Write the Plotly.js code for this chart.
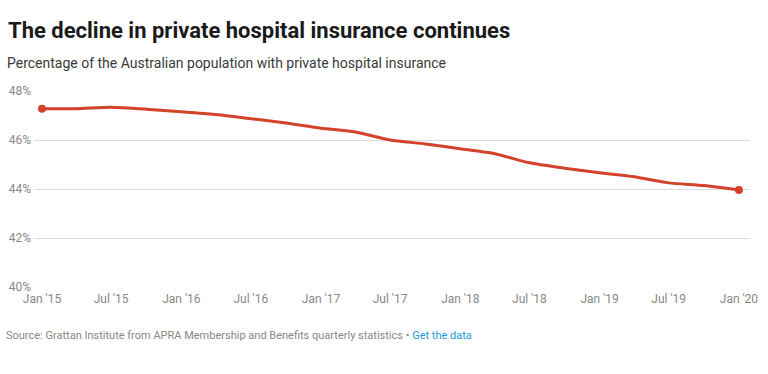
<!DOCTYPE html>
<html>
<head>
<meta charset="utf-8">
<script src="https://cdn.plot.ly/plotly-3.0.1.min.js"></script>
<style>
html,body{margin:0;padding:0;background:#fff;}
#chart{width:768px;height:374px;}
</style>
</head>
<body>
<div id="chart"></div>
<script>
// Quarterly observations (Jan 2015 – Jan 2020)
var dates = ['2015-01-01','2015-04-01','2015-07-01','2015-10-01',
             '2016-01-01','2016-04-01','2016-07-01','2016-10-01',
             '2017-01-01','2017-04-01','2017-07-01','2017-10-01',
             '2018-01-01','2018-04-01','2018-07-01','2018-10-01',
             '2019-01-01','2019-04-01','2019-07-01','2019-10-01',
             '2020-01-01'];
var coverage = [47.28, 47.28, 47.34, 47.26,
                47.15, 47.04, 46.87, 46.69,
                46.48, 46.33, 46.00, 45.84,
                45.64, 45.44, 45.07, 44.85,
                44.66, 44.50, 44.25, 44.14,
                43.96];
var endDates = [dates[0], dates[dates.length-1]];
var endValues = [coverage[0], coverage[coverage.length-1]];

var tickVals = ['2015-01-01','2015-07-01','2016-01-01','2016-07-01','2017-01-01','2017-07-01',
                '2018-01-01','2018-07-01','2019-01-01','2019-07-01','2020-01-01'];
var tickText = ["Jan '15","Jul '15","Jan '16","Jul '16","Jan '17","Jul '17",
                "Jan '18","Jul '18","Jan '19","Jul '19","Jan '20"];
var yTicks = [40, 42, 44, 46, 48];
var yTickText = ['40%','42%','44%','46%','48%'];

var lineColor = '#d2432a';

var traces = [
  {x: dates, y: coverage, type: 'scatter', mode: 'lines',
   line: {color: lineColor, width: 3, shape: 'spline', smoothing: 0.6},
   hoverinfo: 'skip', showlegend: false},
  {x: endDates, y: endValues, type: 'scatter', mode: 'markers',
   marker: {color: lineColor, size: 8},
   hoverinfo: 'skip', showlegend: false}
];

var layout = {
  width: 768, height: 374,
  margin: {l: 34, r: 18, t: 91, b: 87},
  paper_bgcolor: '#fff', plot_bgcolor: '#fff',
  font: {family: 'Roboto, "Open Sans", sans-serif', color: '#888'},
  xaxis: {
    type: 'date', range: ['2014-12-11', '2020-01-30'],
    tickvals: tickVals, ticktext: tickText,
    showgrid: false, zeroline: false, showline: false, ticks: '',
    ticklabelstandoff: 3,
    tickfont: {size: 12, color: '#888'}, fixedrange: true
  },
  yaxis: {
    range: [40, 48], tickvals: yTicks, ticktext: yTickText,
    showgrid: true, gridcolor: '#dcdcdc', gridwidth: 1,
    zeroline: false, showline: false, ticks: '',
    ticklabelstandoff: 2,
    tickfont: {size: 12, color: '#888'}, fixedrange: true
  },
  annotations: [
    {xref: 'paper', yref: 'paper', x: (6-34)/716, y: 1 + (91-31)/196, xanchor: 'left', yanchor: 'middle',
     text: '<b>The decline in private hospital insurance continues</b>', showarrow: false,
     font: {size: 22, color: '#1a1a1a', family: 'Roboto, sans-serif'}},
    {xref: 'paper', yref: 'paper', x: (5-34)/716, y: 1 + (91-63)/196, xanchor: 'left', yanchor: 'middle',
     text: 'Percentage of the Australian population with private hospital insurance', showarrow: false,
     font: {size: 14, color: '#3a3a3a', family: 'Roboto, sans-serif'}},
    {xref: 'paper', yref: 'paper', x: (4-34)/716, y: -(335-287)/196, xanchor: 'left', yanchor: 'middle',
     text: 'Source: Grattan Institute from APRA Membership and Benefits quarterly statistics • <span style="color:#1d9ad6">Get the data</span>',
     showarrow: false, font: {size: 11, color: '#888', family: 'Roboto, sans-serif'}}
  ]
};

Plotly.newPlot('chart', traces, layout, {displayModeBar: false, staticPlot: true});
</script>
</body>
</html>
